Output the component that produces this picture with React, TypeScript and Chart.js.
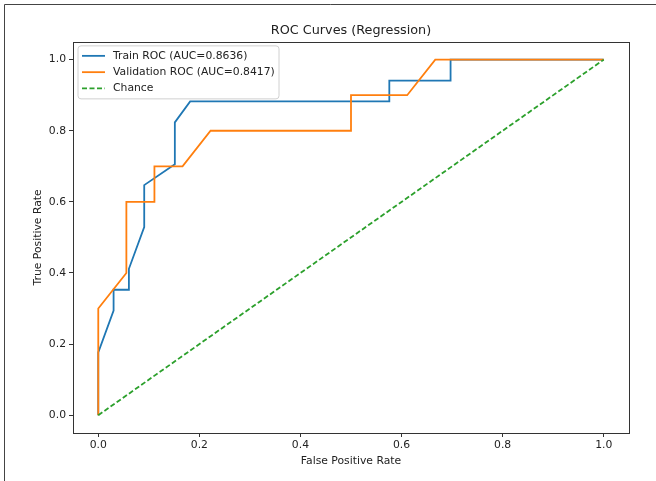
import React, { useEffect, useRef } from "react";
import { Chart, registerables } from "chart.js";

Chart.register(...registerables);

const FONT = "'DejaVu Sans', sans-serif";
const TITLE = "ROC Curves (Regression)";
const X_LABEL = "False Positive Rate";
const Y_LABEL = "True Positive Rate";
const TICKS = [0, 0.2, 0.4, 0.6, 0.8, 1.0];

const trainFpr = [0, 0, 0.0303, 0.0303, 0.0606, 0.0606, 0.0909, 0.0909, 0.1515, 0.1515, 0.1818, 0.5758, 0.5758, 0.697, 0.697, 1];
const trainTpr = [0, 0.1765, 0.2941, 0.3529, 0.3529, 0.4118, 0.5294, 0.6471, 0.7059, 0.8235, 0.8824, 0.8824, 0.9412, 0.9412, 1, 1];
const valFpr = [0, 0, 0.0556, 0.0556, 0.1111, 0.1111, 0.1667, 0.2222, 0.5, 0.5, 0.6111, 0.6667, 1];
const valTpr = [0, 0.3, 0.4, 0.6, 0.6, 0.7, 0.7, 0.8, 0.8, 0.9, 0.9, 1, 1];
const chanceFpr = [0, 1];
const chanceTpr = [0, 1];

const SERIES_LABELS = ["Train ROC (AUC=0.8636)", "Validation ROC (AUC=0.8417)", "Chance"];
const SERIES_COLORS = ["#1f77b4", "#ff7f0e", "#2ca02c"];

const toPoints = (xs: number[], ys: number[]) => xs.map((x, i) => ({ x, y: ys[i] }));

const LABEL_SIZE = 10.8;

const framePlugin = {
  id: "frame",
  beforeDraw(chart: any) {
    const ctx = chart.ctx;
    ctx.save();
    ctx.strokeStyle = "#444";
    ctx.lineWidth = 1;
    ctx.beginPath();
    ctx.moveTo(4.5, 481);
    ctx.lineTo(4.5, 4.5);
    ctx.lineTo(656, 4.5);
    ctx.stroke();
    ctx.restore();
  },
  afterDatasetsDraw(chart: any) {
    const { ctx, chartArea } = chart;
    ctx.save();
    ctx.strokeStyle = "#333";
    ctx.lineWidth = 1;
    ctx.strokeRect(
      Math.round(chartArea.left) + 0.5,
      Math.round(chartArea.top) + 0.5,
      Math.round(chartArea.right - chartArea.left),
      Math.round(chartArea.bottom - chartArea.top)
    );
    ctx.restore();
  },
};

const legendPlugin = {
  id: "innerLegend",
  afterDraw(chart: any) {
    const { ctx, chartArea } = chart;
    const x0 = chartArea.left + 5;
    const y0 = chartArea.top + 4;
    const w = 201;
    const h = 53;
    ctx.save();
    ctx.beginPath();
    const r = 3;
    ctx.moveTo(x0 + r, y0);
    ctx.lineTo(x0 + w - r, y0);
    ctx.quadraticCurveTo(x0 + w, y0, x0 + w, y0 + r);
    ctx.lineTo(x0 + w, y0 + h - r);
    ctx.quadraticCurveTo(x0 + w, y0 + h, x0 + w - r, y0 + h);
    ctx.lineTo(x0 + r, y0 + h);
    ctx.quadraticCurveTo(x0, y0 + h, x0, y0 + h - r);
    ctx.lineTo(x0, y0 + r);
    ctx.quadraticCurveTo(x0, y0, x0 + r, y0);
    ctx.closePath();
    ctx.fillStyle = "rgba(255,255,255,0.8)";
    ctx.fill();
    ctx.strokeStyle = "#d0d0d0";
    ctx.lineWidth = 1;
    ctx.stroke();
    ctx.font = `${LABEL_SIZE}px ${FONT}`;
    ctx.textBaseline = "middle";
    ctx.textAlign = "left";
    chart.data.datasets.forEach((ds: any, i: number) => {
      const yy = y0 + 10 + i * 16.3;
      ctx.beginPath();
      ctx.setLineDash(ds.borderDash || []);
      ctx.strokeStyle = ds.borderColor;
      ctx.lineWidth = 1.8;
      ctx.moveTo(x0 + 4, yy);
      ctx.lineTo(x0 + 27, yy);
      ctx.stroke();
      ctx.setLineDash([]);
      ctx.fillStyle = "#222";
      ctx.fillText(ds.label, x0 + 35, yy);
    });
    ctx.restore();
  },
};

export default function App() {
  const canvasRef = useRef<HTMLCanvasElement | null>(null);

  useEffect(() => {
    if (!canvasRef.current) return;
    const tickFont = { family: FONT, size: LABEL_SIZE };
    const chart = new Chart(canvasRef.current, {
      type: "scatter",
      data: {
        datasets: [
          {
            label: SERIES_LABELS[0],
            data: toPoints(trainFpr, trainTpr),
            borderColor: SERIES_COLORS[0],
            backgroundColor: SERIES_COLORS[0],
            borderWidth: 1.8,
            showLine: true,
            pointRadius: 0,
            tension: 0,
            order: 3,
          },
          {
            label: SERIES_LABELS[1],
            data: toPoints(valFpr, valTpr),
            borderColor: SERIES_COLORS[1],
            backgroundColor: SERIES_COLORS[1],
            borderWidth: 1.8,
            showLine: true,
            pointRadius: 0,
            tension: 0,
            order: 2,
          },
          {
            label: SERIES_LABELS[2],
            data: toPoints(chanceFpr, chanceTpr),
            borderColor: SERIES_COLORS[2],
            backgroundColor: SERIES_COLORS[2],
            borderWidth: 1.8,
            borderDash: [5, 2.5],
            showLine: true,
            pointRadius: 0,
            tension: 0,
            order: 1,
          },
        ],
      },
      options: {
        animation: false,
        responsive: false,
        devicePixelRatio: 1,
        layout: { padding: { left: 28, right: 27, top: 0, bottom: 0 } },
        plugins: {
          legend: { display: false },
          tooltip: { enabled: false },
          title: {
            display: true,
            text: TITLE,
            fullSize: false,
            color: "#222",
            font: { family: FONT, size: 12.8, weight: "normal", lineHeight: 1.2 },
            padding: { top: 23, bottom: 3.5 },
          },
        },
        scales: {
          x: {
            type: "linear",
            min: -0.05,
            max: 1.05,
            afterBuildTicks: (s: any) => {
              s.ticks = TICKS.map((v) => ({ value: v }));
            },
            afterFit: (s: any) => {
              s.height = 48;
            },
            grid: { display: true, drawOnChartArea: false, drawTicks: true, tickLength: 4, tickColor: "#333" },
            border: { display: false },
            ticks: {
              color: "#222",
              font: tickFont,
              padding: 2,
              maxRotation: 0,
              autoSkip: false,
              callback: (v: any) => Number(v).toFixed(1),
            },
            title: {
              display: true,
              text: X_LABEL,
              color: "#222",
              font: { family: FONT, size: LABEL_SIZE, lineHeight: 1.2 },
              padding: { top: 0, bottom: 13.5 },
            },
          },
          y: {
            type: "linear",
            min: -0.05,
            max: 1.05,
            afterBuildTicks: (s: any) => {
              s.ticks = TICKS.map((v) => ({ value: v }));
            },
            afterFit: (s: any) => {
              s.width = 45;
            },
            grid: { display: true, drawOnChartArea: false, drawTicks: true, tickLength: 4, tickColor: "#333" },
            border: { display: false },
            ticks: {
              color: "#222",
              font: tickFont,
              padding: 3,
              autoSkip: false,
              callback: (v: any) => Number(v).toFixed(1),
            },
            title: {
              display: true,
              text: Y_LABEL,
              color: "#222",
              font: { family: FONT, size: LABEL_SIZE, lineHeight: 1.2 },
              padding: { top: 3.5, bottom: 0 },
            },
          },
        },
      },
      plugins: [framePlugin, legendPlugin],
    } as any);
    return () => chart.destroy();
  }, []);

  return (
    <div style={{ position: "absolute", left: 0, top: 0, width: 656, height: 481, background: "#fff" }}>
      <canvas ref={canvasRef} width={656} height={481} style={{ display: "block", width: 656, height: 481 }} />
    </div>
  );
}
